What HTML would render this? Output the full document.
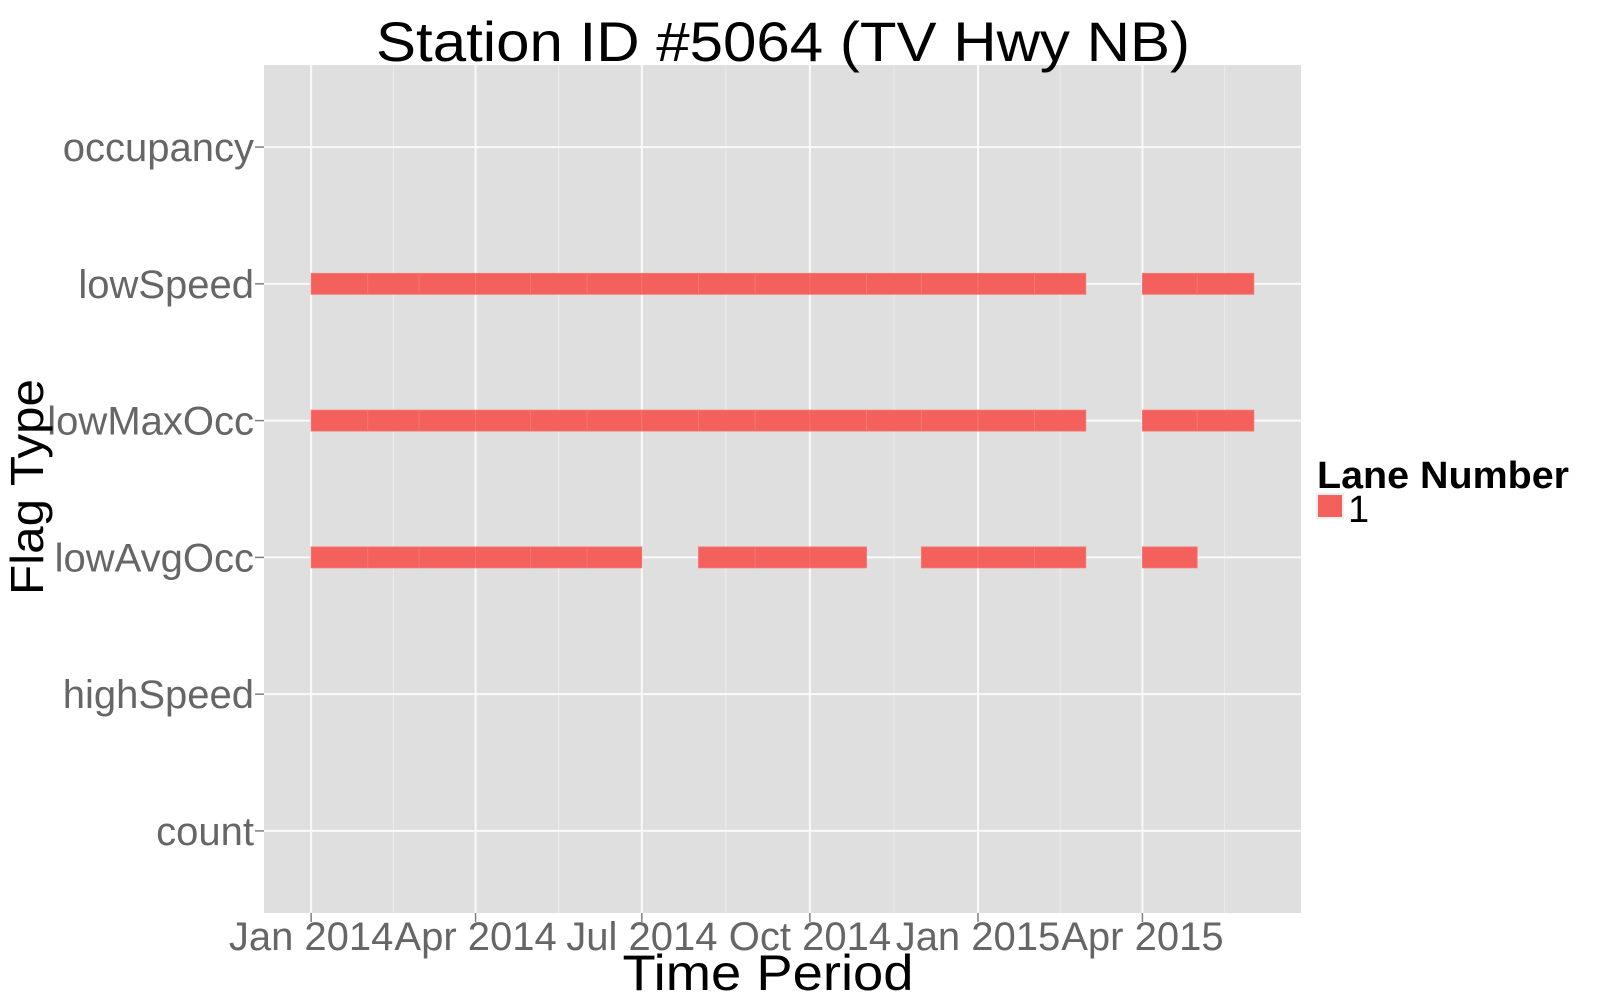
<!DOCTYPE html>
<html><head><meta charset="utf-8"><style>
html,body{margin:0;padding:0;background:#fff;width:1600px;height:1000px;overflow:hidden}
svg{display:block;font-family:"Liberation Sans",Arial,sans-serif}
</style></head><body>
<svg id="chart" width="1600" height="1000">
<rect x="264" y="65" width="1037" height="848" fill="#dfdfdf"/>
<g id="grid"></g><g id="bars"></g><g id="axes"></g>
<text x="783" y="61" font-size="56" text-anchor="middle" textLength="814" lengthAdjust="spacingAndGlyphs">Station ID #5064 (TV Hwy NB)</text>
<text x="768" y="990" font-size="50" text-anchor="middle" textLength="291" lengthAdjust="spacingAndGlyphs">Time Period</text>
<text transform="translate(43,487) rotate(-90)" font-size="46" text-anchor="middle" textLength="216" lengthAdjust="spacingAndGlyphs">Flag Type</text>
<text x="1317" y="488" font-size="38" font-weight="bold" textLength="252" lengthAdjust="spacingAndGlyphs">Lane Number</text>
<rect x="1316" y="493" width="28" height="26" fill="#f0f0f0"/>
<rect x="1318" y="495" width="24" height="22" fill="#f4605c"/>
<text x="1348" y="522" font-size="38">1</text>
</svg>
<script>
const categories = ["count","highSpeed","lowAvgOcc","lowMaxOcc","lowSpeed","occupancy"];
const tickLabels = ["Jan 2014","Apr 2014","Jul 2014","Oct 2014","Jan 2015","Apr 2015"];
const tickDates = ["2014-01-01","2014-04-01","2014-07-01","2014-10-01","2015-01-01","2015-04-01"];
const lowSpeedMonths = ["2014-01","2014-02","2014-03","2014-04","2014-05","2014-06","2014-07","2014-08","2014-09","2014-10","2014-11","2014-12","2015-01","2015-02","2015-04","2015-05"];
const lowMaxOccMonths = ["2014-01","2014-02","2014-03","2014-04","2014-05","2014-06","2014-07","2014-08","2014-09","2014-10","2014-11","2014-12","2015-01","2015-02","2015-04","2015-05"];
const lowAvgOccMonths = ["2014-01","2014-02","2014-03","2014-04","2014-05","2014-06","2014-08","2014-09","2014-10","2014-12","2015-01","2015-02","2015-04"];

const NS="http://www.w3.org/2000/svg";
const t0=Date.UTC(2014,0,1), t1=Date.UTC(2015,5,1);
const PX=264,PW=1037,PY=65,PH=848;
const span=(t1-t0), ext=span*0.05;
function xs(t){return PX+(t-(t0-ext))/(span+2*ext)*PW;}
function parseD(s){const p=s.split("-");return Date.UTC(+p[0],+p[1]-1,p[2]?+p[2]:1);}
function ys(c){const i=categories.indexOf(c);const n=categories.length;return PY+PH-(i+0.6)/(n-1+1.2)*PH;}
function mk(tag,attrs,parent){const e=document.createElementNS(NS,tag);for(const k in attrs)e.setAttribute(k,attrs[k]);parent.appendChild(e);return e;}
const grid=document.getElementById("grid"),bars=document.getElementById("bars"),axes=document.getElementById("axes");
const tx=tickDates.map(parseD);
for(let i=0;i<tx.length;i++){
  const next = i<tx.length-1 ? tx[i+1] : tx[i]+(tx[i]-tx[i-1]);
  const xm=xs((tx[i]+next)/2);
  if(xm>PX && xm<PX+PW){const l=mk("line",{x1:xm,x2:xm,y1:PY,y2:PY+PH,stroke:"#ececec","stroke-width":1},grid);
  
  }
}
tx.forEach((t,i)=>{
  const x=xs(t);
  const l=mk("line",{x1:x,x2:x,y1:PY,y2:PY+PH,stroke:"#fafafa","stroke-width":2},grid);
  
  
  const tk=mk("line",{x1:x,x2:x,y1:PY+PH,y2:PY+PH+9,stroke:"#7f7f7f","stroke-width":1.5},axes);
  
  
  const tt=mk("text",{x:x,y:950,"font-size":40,"text-anchor":"middle",fill:"#666"},axes);
  tt.textContent=tickLabels[i];
  
  
});
categories.forEach(c=>{
  const y=ys(c);
  const l=mk("line",{x1:PX,x2:PX+PW,y1:y,y2:y,stroke:"#fafafa","stroke-width":2},grid);
  
  
  const tk=mk("line",{x1:PX-9,x2:PX,y1:y,y2:y,stroke:"#7f7f7f","stroke-width":1.5},axes);
  
  
  const tt=mk("text",{x:254,y:y+14,"font-size":40,"text-anchor":"end",fill:"#666"},axes);
  tt.textContent=c;
  
  
});
function drawSeries(cat,months){
  const y=ys(cat);
  months.forEach(m=>{
    const s=parseD(m);const d=new Date(s);const e=Date.UTC(d.getUTCFullYear(),d.getUTCMonth()+1,1);
    const x0=xs(s),x1=xs(e);
    const r=mk("rect",{x:x0,y:y-10.5,width:x1-x0,height:21,fill:"#f4605c",stroke:"#f57a76","stroke-width":0.8},bars);
    
    
  });
}
drawSeries("lowSpeed",lowSpeedMonths);
drawSeries("lowMaxOcc",lowMaxOccMonths);
drawSeries("lowAvgOcc",lowAvgOccMonths);
</script>
</body></html>
